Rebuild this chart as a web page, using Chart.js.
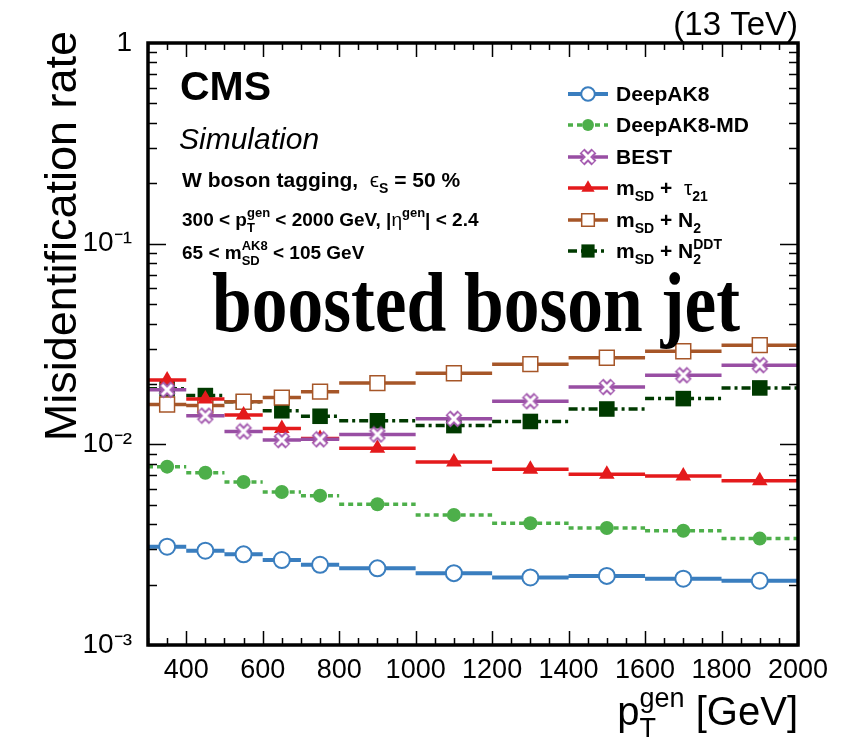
<!DOCTYPE html>
<html>
<head>
<meta charset="utf-8">
<script src="https://cdn.jsdelivr.net/npm/chart.js@4.4.0/dist/chart.umd.min.js"></script>
<style>
  html, body { margin: 0; background: #fff; }
</style>
</head>
<body>
<canvas id="myChart" width="859" height="750"></canvas>
<script>
// bins in pT^gen [GeV]
var binEdges = [300, 400, 500, 600, 700, 800, 1000, 1200, 1400, 1600, 1800, 2000];

// misidentification rate per bin
var deepAK8   = [3.09e-3, 2.95e-3, 2.83e-3, 2.65e-3, 2.51e-3, 2.41e-3, 2.28e-3, 2.17e-3, 2.21e-3, 2.14e-3, 2.09e-3];
var deepAK8MD = [7.74e-3, 7.22e-3, 6.49e-3, 5.79e-3, 5.55e-3, 5.03e-3, 4.45e-3, 4.04e-3, 3.83e-3, 3.71e-3, 3.39e-3];
var best      = [1.87e-2, 1.39e-2, 1.16e-2, 1.05e-2, 1.06e-2, 1.12e-2, 1.34e-2, 1.64e-2, 1.93e-2, 2.21e-2, 2.48e-2];
var tau21     = [2.09e-2, 1.68e-2, 1.40e-2, 1.20e-2, 1.07e-2, 9.55e-3, 8.17e-3, 7.51e-3, 7.10e-3, 6.96e-3, 6.59e-3];
var n2        = [1.58e-2, 1.56e-2, 1.63e-2, 1.71e-2, 1.83e-2, 2.02e-2, 2.26e-2, 2.51e-2, 2.70e-2, 2.91e-2, 3.12e-2];
var n2ddt     = [1.89e-2, 1.75e-2, 1.63e-2, 1.47e-2, 1.38e-2, 1.31e-2, 1.24e-2, 1.30e-2, 1.50e-2, 1.69e-2, 1.91e-2];

var xTickValues = [400, 600, 800, 1000, 1200, 1400, 1600, 1800, 2000];
var yTickValues = [0.001, 0.01, 0.1, 1];
var yTickLabels = ["10\u207B\u00B3", "10\u207B\u00B2", "10\u207B\u00B9", "1"];

var FONT = '"Liberation Sans", Arial, Helvetica, sans-serif';

// open "X" marker for BEST
function makeOpenCross(color) {
  var c = document.createElement("canvas");
  c.width = 18; c.height = 18;
  var g = c.getContext("2d");
  g.lineCap = "butt";
  g.strokeStyle = color; g.lineWidth = 7;
  g.beginPath(); g.moveTo(3, 3); g.lineTo(15, 15); g.moveTo(15, 3); g.lineTo(3, 15); g.stroke();
  g.strokeStyle = "#fff"; g.lineWidth = 3;
  g.beginPath(); g.moveTo(4, 4); g.lineTo(14, 14); g.moveTo(14, 4); g.lineTo(4, 14); g.stroke();
  return c;
}

// horizontal segment for every bin, marker at bin centre
function stepPoints(vals) {
  var pts = [];
  for (var i = 0; i < vals.length; i++) {
    var lo = binEdges[i], hi = binEdges[i + 1];
    pts.push({ x: lo, y: vals[i] });
    pts.push({ x: (lo + hi) / 2, y: vals[i], m: true });
    pts.push({ x: hi, y: vals[i] });
    pts.push({ x: hi, y: null });
  }
  return pts;
}

function series(label, vals, color, opts) {
  return {
    label: label,
    legendRuns: opts.legendRuns,
    data: stepPoints(vals),
    borderColor: color,
    borderWidth: opts.width || 3.5,
    borderDash: opts.dash || [],
    pointStyle: opts.style,
    pointBackgroundColor: opts.fill,
    pointBorderColor: color,
    pointBorderWidth: opts.pbw || 0,
    pointRadius: function (c) { return c.raw && c.raw.m ? opts.r : 0; },
    pointHoverRadius: 0,
    markerRadius: opts.r,
    spanGaps: false,
    tension: 0,
    fill: false
  };
}

var datasets = [
  series("DeepAK8", deepAK8, "#3a7ebf", { style: "circle", fill: "#fff", pbw: 2, r: 8, width: 4, legendRuns: ["DeepAK8"] }),
  series("DeepAK8-MD", deepAK8MD, "#4daf4a", { style: "circle", fill: "#4daf4a", r: 7, width: 3.5, dash: [5, 4], legendRuns: ["DeepAK8-MD"] }),
  series("BEST", best, "#984ea3", { style: makeOpenCross("#a55cb0"), fill: "#fff", r: 9, legendRuns: ["BEST"] }),
  series("mSD + tau21", tau21, "#e41a1c", { style: "triangle", fill: "#e41a1c", r: 9, legendRuns: ["m", { sub: "SD" }, " +  ", { t: "\u03C4", w: "normal" }, { sub: "21" }] }),
  series("mSD + N2", n2, "#a65628", { style: "rect", fill: "#fff", pbw: 1.5, r: 10.5, legendRuns: ["m", { sub: "SD" }, " + N", { sub: "2" }] }),
  series("mSD + N2DDT", n2ddt, "#003a00", { style: "rect", fill: "#003a00", r: 11, dash: [9, 4, 3, 4], legendRuns: ["m", { sub: "SD" }, " + N", { sub: "2", sup: "DDT" }] })
];

// text with sub/superscripts
function drawRich(ctx, runs, x, y, size, o) {
  o = o || {};
  var wt = o.bold ? "bold " : "";
  var st = o.italic ? "italic " : "";
  var small = Math.round(size * 0.68);
  var parts = runs.map(function (r) {
    if (typeof r === "string") r = { t: r };
    var f;
    if (r.t !== undefined) {
      f = st + (r.w ? r.w + " " : wt) + size + "px " + FONT;
      ctx.font = f;
      return { r: r, f: f, w: ctx.measureText(r.t).width };
    }
    f = st + wt + small + "px " + FONT;
    ctx.font = f;
    var a = r.sub ? ctx.measureText(r.sub).width : 0;
    var b = r.sup ? ctx.measureText(r.sup).width : 0;
    return { r: r, f: f, w: Math.max(a, b) };
  });
  var total = parts.reduce(function (s, p) { return s + p.w; }, 0);
  var cx = o.align === "right" ? x - total : (o.align === "center" ? x - total / 2 : x);
  ctx.textAlign = "left";
  ctx.textBaseline = "alphabetic";
  parts.forEach(function (p) {
    ctx.font = p.f;
    if (p.r.t !== undefined) {
      ctx.fillText(p.r.t, cx, y);
    } else {
      if (p.r.sub) ctx.fillText(p.r.sub, cx, y + size * 0.3);
      if (p.r.sup) ctx.fillText(p.r.sup, cx, y - size * 0.45);
    }
    cx += p.w;
  });
}

var decor = {
  id: "decor",
  afterDatasetsDraw: function (chart) {
    var ctx = chart.ctx, a = chart.chartArea;
    var xs = chart.scales.x, ys = chart.scales.y;
    ctx.save();
    ctx.strokeStyle = "#000";
    ctx.setLineDash([]);
    // inward ticks, x
    ctx.lineWidth = 1.5;
    ctx.beginPath();
    for (var v = 300; v <= 2000; v += 50) {
      var px = Math.round(xs.getPixelForValue(v)) + 0.5;
      var len = v % 200 === 0 ? 14 : 7;
      ctx.moveTo(px, a.bottom); ctx.lineTo(px, a.bottom - len);
      ctx.moveTo(px, a.top); ctx.lineTo(px, a.top + len);
    }
    // inward ticks, y
    for (var d = -3; d < 0; d++) {
      for (var k = 1; k <= 9; k++) {
        var val = k * Math.pow(10, d);
        var py = Math.round(ys.getPixelForValue(val)) + 0.5;
        var l = k === 1 ? 18 : 9;
        ctx.moveTo(a.left, py); ctx.lineTo(a.left + l, py);
        ctx.moveTo(a.right, py); ctx.lineTo(a.right - l, py);
      }
    }
    ctx.stroke();
    // frame
    ctx.lineWidth = 3.5;
    ctx.strokeRect(a.left, a.top, a.right - a.left, a.bottom - a.top);
    ctx.restore();
  },
  afterDraw: function (chart) {
    var ctx = chart.ctx, a = chart.chartArea;
    ctx.save();
    ctx.fillStyle = "#000";

    // axis titles
    drawRich(ctx, ["p", { sub: "T", sup: "gen" }, " [GeV]"], a.right, 725, 40, { align: "right" });
    ctx.save();
    ctx.translate(76, 31);
    ctx.rotate(-Math.PI / 2);
    ctx.font = "45px " + FONT;
    ctx.textAlign = "right";
    ctx.textBaseline = "alphabetic";
    ctx.fillText("Misidentification rate", 0, 0);
    ctx.restore();

    drawRich(ctx, ["(13 TeV)"], a.right, 35, 33, { align: "right" });

    // CMS labels
    drawRich(ctx, ["CMS"], 180, 100, 41, { bold: true });
    drawRich(ctx, ["Simulation"], 179, 149, 30, { italic: true });
    drawRich(ctx, ["W boson tagging,  ", { t: "\u03F5", w: "normal" }, { sub: "S" }, " = 50 %"], 182, 187, 21, { bold: true });
    drawRich(ctx, ["300 < p", { sub: "T", sup: "gen" }, " < 2000 GeV, |", { t: "\u03B7", w: "normal" }, { sup: "gen" }, "| < 2.4"], 182, 226, 19, { bold: true });
    drawRich(ctx, ["65 < m", { sub: "SD", sup: "AK8" }, " < 105 GeV"], 182, 259, 19, { bold: true });

    // legend
    var rowY = [94, 125, 157, 188, 220, 251];
    chart.data.datasets.forEach(function (ds, i) {
      var y = rowY[i];
      ctx.save();
      ctx.strokeStyle = ds.borderColor;
      ctx.lineWidth = ds.borderWidth;
      ctx.setLineDash(ds.borderDash);
      ctx.beginPath(); ctx.moveTo(568, y); ctx.lineTo(608, y); ctx.stroke();
      ctx.setLineDash([]);
      ctx.fillStyle = ds.pointBackgroundColor;
      ctx.strokeStyle = ds.pointBorderColor;
      ctx.lineWidth = ds.pointBorderWidth;
      Chart.helpers.drawPoint(ctx, {
        pointStyle: ds.pointStyle,
        radius: ds.markerRadius * 0.85,
        rotation: 0,
        borderWidth: ds.pointBorderWidth
      }, 588, y);
      ctx.restore();
      ctx.fillStyle = "#000";
      drawRich(ctx, ds.legendRuns, 616, y + 7, 21, { bold: true });
    });

    // overlay title
    ctx.save();
    ctx.font = "bold 84px \"Liberation Serif\", \"Times New Roman\", serif";
    var txt = "boosted boson jet";
    var w = ctx.measureText(txt).width;
    ctx.translate(212, 331);
    ctx.scale(528 / w, 1);
    ctx.textAlign = "left";
    ctx.textBaseline = "alphabetic";
    ctx.fillText(txt, 0, 0);
    ctx.restore();

    ctx.restore();
  }
};

var ctx = document.getElementById("myChart");
var myChart = new Chart(ctx, {
  type: "line",
  data: { datasets: datasets },
  options: {
    responsive: false,
    animation: false,
    events: [],
    layout: { padding: { left: 0, top: 43, right: 61, bottom: 0 } },
    plugins: { legend: { display: false }, tooltip: { enabled: false } },
    scales: {
      x: {
        type: "linear",
        min: 300,
        max: 2000,
        grid: { display: false },
        border: { display: false },
        afterBuildTicks: function (s) { s.ticks = xTickValues.map(function (v) { return { value: v }; }); },
        afterFit: function (s) { s.height = 105; },
        ticks: {
          color: "#000",
          font: { family: FONT, size: 27 },
          padding: 1,
          maxRotation: 0,
          autoSkip: false,
          callback: function (value) { return String(value); }
        }
      },
      y: {
        type: "logarithmic",
        min: 0.001,
        max: 1,
        grid: { display: false },
        border: { display: false },
        afterBuildTicks: function (s) { s.ticks = yTickValues.map(function (v) { return { value: v }; }); },
        afterFit: function (s) { s.width = 148; },
        ticks: {
          color: "#000",
          font: { family: FONT, size: 28 },
          padding: 8,
          autoSkip: false,
          callback: function (value, index) { return yTickLabels[index]; }
        }
      }
    }
  },
  plugins: [decor]
});
</script>
</body>
</html>
